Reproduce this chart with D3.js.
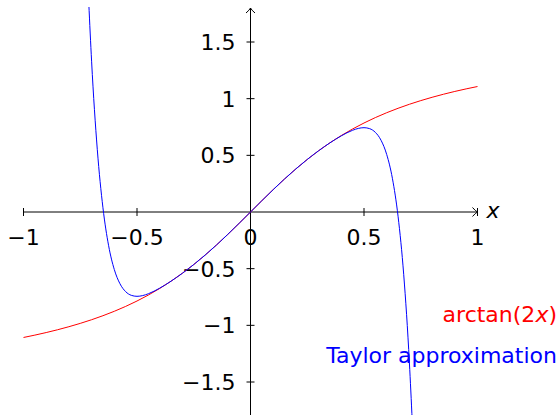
<!DOCTYPE html>
<html>
<head>
<meta charset="utf-8">
<script src="https://d3js.org/d3.v7.min.js"></script>
<style>
  body { margin: 0; background: #fff; }
  text { font-family: "DejaVu Sans", sans-serif; font-size: 22px; }
</style>
</head>
<body>
<svg width="560" height="415"></svg>
<script>
// data
var xTicks = [-1, -0.5, 0, 0.5, 1];
var yTicks = [-1.5, -1, -0.5, 0.5, 1, 1.5];

var redX = [-1, -0.95, -0.9, -0.85, -0.8, -0.75, -0.7, -0.65, -0.6, -0.55, -0.5,
  -0.45, -0.4, -0.35, -0.3, -0.25, -0.2, -0.15, -0.1, -0.05, 0,
  0.05, 0.1, 0.15, 0.2, 0.25, 0.3, 0.35, 0.4, 0.45, 0.5,
  0.55, 0.6, 0.65, 0.7, 0.75, 0.8, 0.85, 0.9, 0.95, 1];
var redY = [-1.1071, -1.0863, -1.0637, -1.0391, -1.0122, -0.9828, -0.9505, -0.9151, -0.8761, -0.8330, -0.7854,
  -0.7328, -0.6747, -0.6107, -0.5404, -0.4636, -0.3805, -0.2915, -0.1974, -0.0997, 0,
  0.0997, 0.1974, 0.2915, 0.3805, 0.4636, 0.5404, 0.6107, 0.6747, 0.7328, 0.7854,
  0.8330, 0.8761, 0.9151, 0.9505, 0.9828, 1.0122, 1.0391, 1.0637, 1.0863, 1.1071];

var blueX = [-0.75, -0.725, -0.7, -0.675, -0.65, -0.625, -0.6, -0.575, -0.55, -0.525, -0.5,
  -0.475, -0.45, -0.4, -0.35, -0.3, -0.25, -0.2, -0.15, -0.1, -0.05, 0,
  0.05, 0.1, 0.15, 0.2, 0.25, 0.3, 0.35, 0.4, 0.45, 0.475,
  0.5, 0.525, 0.55, 0.575, 0.6, 0.625, 0.65, 0.675, 0.7, 0.725, 0.75];
var blueY = [4.139, 2.4769, 1.3307, 0.5535, 0.0371, -0.2976, -0.5076, -0.6332, -0.7027, -0.7353, -0.7440,
  -0.7375, -0.7213, -0.6720, -0.6102, -0.5403, -0.4636, -0.3805, -0.2915, -0.1974, -0.0997, 0,
  0.0997, 0.1974, 0.2915, 0.3805, 0.4636, 0.5403, 0.6102, 0.6720, 0.7213, 0.7375,
  0.7440, 0.7353, 0.7027, 0.6332, 0.5076, 0.2976, -0.0371, -0.5535, -1.3307, -2.4769, -4.139];

var svg = d3.select("svg");

var x = d3.scaleLinear().domain([-1, 1]).range([23.5, 477.5]);
var y = d3.scaleLinear().domain([-1.8, 1.8]).range([416, 8]);

svg.append("clipPath").attr("id", "plotArea")
  .append("rect")
  .attr("x", 0).attr("y", y(1.8) - 1)
  .attr("width", 560).attr("height", y(-1.8) - y(1.8) + 2);

// axes
var ax = svg.append("g").attr("stroke", "#000").attr("stroke-width", 1).attr("fill", "none");
ax.append("line")
  .attr("x1", x(-1)).attr("x2", x(1))
  .attr("y1", y(0)).attr("y2", y(0));
ax.append("line")
  .attr("x1", x(0)).attr("x2", x(0))
  .attr("y1", y(-1.8)).attr("y2", y(1.8));

ax.selectAll(".xtick").data(xTicks).enter().append("line")
  .attr("x1", function(d) { return x(d); }).attr("x2", function(d) { return x(d); })
  .attr("y1", y(0) - 4).attr("y2", y(0) + 4);
ax.selectAll(".ytick").data(yTicks).enter().append("line")
  .attr("x1", x(0) - 4).attr("x2", x(0) + 4)
  .attr("y1", function(d) { return y(d); }).attr("y2", function(d) { return y(d); });

// arrow heads
var tx = x(1), ty = y(0);
ax.append("path")
  .attr("d", "M" + (tx - 5) + "," + (ty - 4.5) + " Q" + (tx - 2) + "," + (ty - 1) + " " + tx + "," + ty +
             " Q" + (tx - 2) + "," + (ty + 1) + " " + (tx - 5) + "," + (ty + 4.5));
var vx = x(0), vy = y(1.8);
ax.append("path")
  .attr("d", "M" + (vx - 4.5) + "," + (vy + 5) + " Q" + (vx - 1) + "," + (vy + 2) + " " + vx + "," + vy +
             " Q" + (vx + 1) + "," + (vy + 2) + " " + (vx + 4.5) + "," + (vy + 5));

// tick labels
function fmt(d) { return (d < 0 ? "\u2212" : "") + Math.abs(d); }

svg.selectAll(".xlab").data(xTicks).enter().append("text")
  .attr("x", function(d) { return x(d); })
  .attr("y", y(0) + 33)
  .attr("text-anchor", "middle")
  .text(fmt);

svg.selectAll(".ylab").data(yTicks).enter().append("text")
  .attr("x", x(0) - 15)
  .attr("y", function(d) { return y(d); })
  .attr("dy", "0.36em")
  .attr("text-anchor", "end")
  .text(fmt);

svg.append("text")
  .attr("x", x(1) + 9).attr("y", y(0) + 6)
  .attr("font-style", "italic")
  .text("x");

// curves
var line = d3.line()
  .x(function(d) { return x(d[0]); })
  .y(function(d) { return y(d[1]); })
  .curve(d3.curveMonotoneX);

var plot = svg.append("g").attr("clip-path", "url(#plotArea)");
plot.append("path")
  .datum(d3.zip(redX, redY))
  .attr("fill", "none").attr("stroke", "#ff0000").attr("stroke-width", 1)
  .attr("d", line);
plot.append("path")
  .datum(d3.zip(blueX, blueY))
  .attr("fill", "none").attr("stroke", "#0000ff").attr("stroke-width", 1)
  .attr("d", line);

// legend labels
var red = svg.append("text")
  .attr("x", 557).attr("y", 322)
  .attr("text-anchor", "end")
  .attr("fill", "#ff0000");
red.append("tspan").text("arctan(2");
red.append("tspan").attr("font-style", "italic").text("x");
red.append("tspan").text(")");

svg.append("text")
  .attr("x", 557).attr("y", 363)
  .attr("text-anchor", "end")
  .attr("fill", "#0000ff")
  .text("Taylor approximation");
</script>
</body>
</html>
